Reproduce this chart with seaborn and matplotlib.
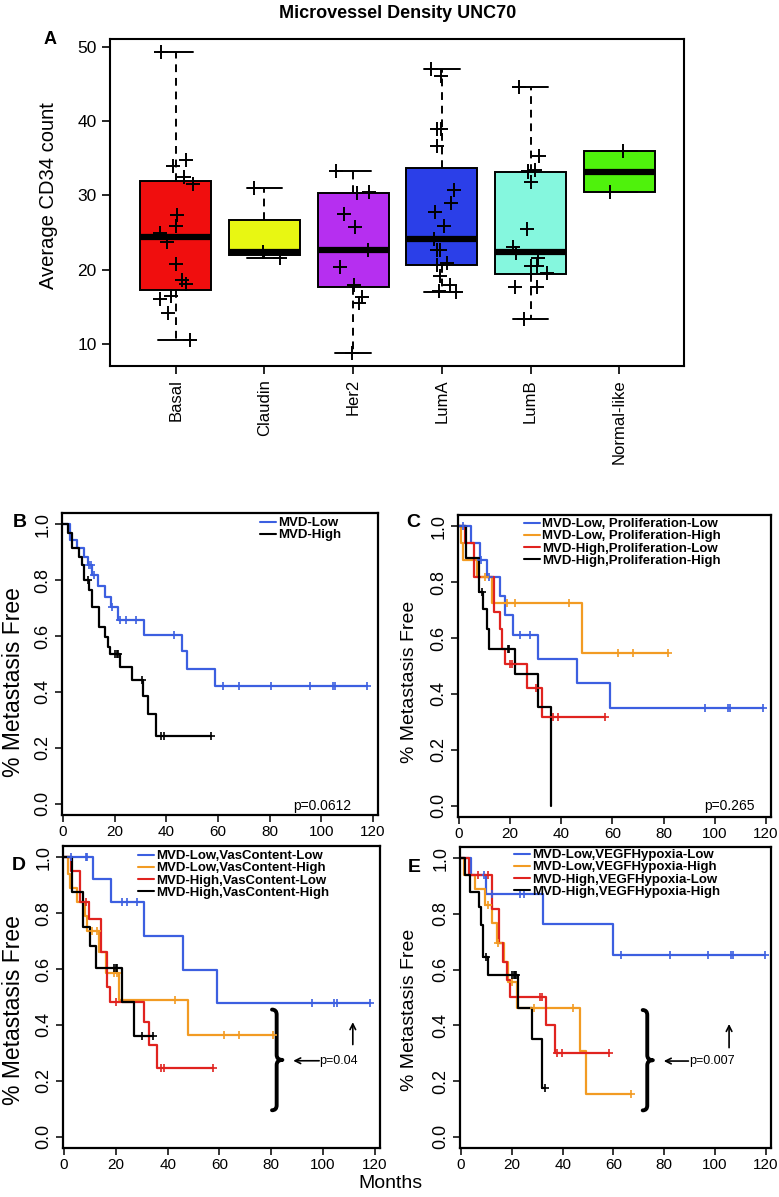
import numpy as np
import pandas as pd
import seaborn as sns
import matplotlib
matplotlib.use("Agg")
import matplotlib.pyplot as plt
from matplotlib import font_manager as fm
from matplotlib.lines import Line2D
from matplotlib.path import Path
from matplotlib.patches import PathPatch

sns.set_style("ticks", rc={"axes.edgecolor": "black", "text.color": "black",
                           "xtick.color": "black", "ytick.color": "black",
                           "axes.labelcolor": "black"})
plt.rcParams["font.family"] = ["Liberation Sans", "DejaVu Sans"]

# narrow face for the month ticks (the originals are condensed), if present
_narrow = [f.name for f in fm.fontManager.ttflist if f.name == "Liberation Sans Narrow"]
month_font = _narrow[0] if _narrow else "Liberation Sans"
month_size = 13 if _narrow else 11

# ---------------- panel A : CD34 counts per subtype ----------------
subtypes = ["Basal", "Claudin", "Her2", "LumA", "LumB", "Normal-like"]
box_colors = ["#F00E0E", "#E8F712", "#B62FF0", "#2B3FE8", "#85F7DE", "#4FF20C"]

basal_pts = [49.4, 34.8, 34.0, 32.5, 31.5, 27.3, 25.9, 25.0, 23.7, 20.8,
             18.6, 18.1, 16.5, 16.1, 14.2, 10.5]
claudin_pts = [31.0, 22.4, 21.6]
her2_pts = [33.3, 30.3, 30.4, 27.5, 25.8, 22.7, 20.3, 17.9, 16.3, 15.5, 8.7]
luma_pts = [47.1, 46.1, 39.0, 39.0, 36.7, 30.7, 29.0, 27.8, 25.9, 24.1,
            22.7, 22.7, 20.9, 20.6, 19.2, 17.9, 17.1, 17.0]
lumb_pts = [44.6, 35.3, 33.1, 33.3, 33.5, 31.8, 25.5, 23.1, 22.3, 21.6,
            20.5, 20.5, 19.5, 17.6, 17.6, 13.3]
normal_pts = [36.0, 30.4]

# box summaries (R boxplot hinges)
box_q1 = [17.2, 22.0, 17.7, 20.6, 19.4, 30.5]
box_med = [24.35, 22.35, 22.7, 24.1, 22.4, 33.2]
box_q3 = [32.0, 26.7, 30.3, 33.7, 33.1, 36.0]
whisk_lo = [10.5, 21.6, 8.7, 17.0, 13.3, 30.5]
whisk_hi = [49.4, 31.0, 33.3, 47.1, 44.6, 36.0]

# ---------------- Kaplan-Meier curves ----------------
km_blue, km_orange, km_red, km_black = "#3C5FE0", "#F29B23", "#E0231F", "black"

# B
b_low_t = [0, 2.6, 5.4, 8.3, 9.6, 11.4, 13.5, 16.3, 18.4, 21.4, 31.4, 46.2, 48.0, 58.8]
b_low_s = [1.0, 0.943, 0.914, 0.883, 0.855, 0.817, 0.779, 0.741, 0.704, 0.658, 0.604, 0.545, 0.483, 0.422]
b_low_end = 117.7
b_low_cens = [10.1, 10.9, 12.1, 18.9, 22.1, 24.3, 28.1, 43.1, 61.9, 68.0, 80.7, 95.6, 104.6, 105.3, 117.7]
b_high_t = [0, 2.1, 3.5, 6.0, 7.3, 8.2, 9.9, 11.4, 14.1, 16.3, 17.3, 18.2, 22.1, 26.8, 31.1, 33.0, 36.2]
b_high_s = [1.0, 0.97, 0.914, 0.883, 0.854, 0.80, 0.765, 0.705, 0.634, 0.598, 0.562, 0.535, 0.488, 0.444, 0.386, 0.322, 0.241]
b_high_end = 57.4
b_high_cens = [9.6, 20.2, 20.8, 21.4, 30.4, 37.9, 39.2, 57.4]

# C
c_ll_t = [0, 4.7, 8.2, 10.8, 16.0, 18.0, 21.0, 30.7, 46.0, 59.0]
c_ll_s = [1.0, 0.94, 0.88, 0.818, 0.749, 0.681, 0.612, 0.524, 0.439, 0.35]
c_ll_end = 119.0
c_ll_cens = [1.7, 8.5, 11.9, 23.8, 27.8, 96.2, 105.3, 105.9, 119.0]
c_lh_t = [0, 0.7, 1.4, 6.9, 12.8, 47.9]
c_lh_s = [1.0, 0.94, 0.88, 0.818, 0.724, 0.545]
c_lh_end = 81.8
c_lh_cens = [10.2, 18.6, 21.9, 43.0, 62.3, 68.1, 81.8]
c_hl_t = [0, 2.3, 6.0, 13.7, 16.0, 16.9, 18.0, 26.4, 32.3]
c_hl_s = [1.0, 0.94, 0.818, 0.694, 0.631, 0.562, 0.507, 0.421, 0.316]
c_hl_end = 57.1
c_hl_cens = [19.9, 20.6, 30.0, 36.6, 38.8, 57.1]
c_hh_t = [0, 2.7, 7.7, 9.5, 10.8, 11.7, 21.9, 30.7, 36.0]
c_hh_s = [1.0, 0.885, 0.766, 0.703, 0.633, 0.56, 0.471, 0.352, 0.0]
c_hh_end = 36.0
c_hh_cens = [8.9, 19.3, 19.7]

# D
d_ll_t = [0, 11.1, 18.1, 31.0, 45.8, 58.9]
d_ll_s = [1.0, 0.922, 0.839, 0.718, 0.598, 0.477]
d_ll_end = 118.1
d_ll_cens = [2.7, 8.5, 9.0, 22.3, 24.2, 28.1, 95.6, 104.4, 105.3, 118.1]
d_lh_t = [0, 1.7, 2.3, 5.1, 8.1, 9.0, 13.5, 16.2, 21.4, 48.0]
d_lh_s = [1.0, 0.94, 0.89, 0.839, 0.788, 0.737, 0.662, 0.585, 0.489, 0.365]
d_lh_end = 80.8
d_lh_cens = [10.7, 12.6, 19.4, 20.3, 42.9, 61.8, 67.7, 80.8]
d_hl_t = [0, 2.7, 6.2, 9.8, 14.3, 16.7, 17.8, 30.9, 32.7, 35.8]
d_hl_s = [1.0, 0.95, 0.839, 0.779, 0.662, 0.537, 0.481, 0.409, 0.328, 0.246]
d_hl_end = 57.7
d_hl_cens = [8.5, 19.9, 37.3, 38.6, 57.7]
d_hh_t = [0, 3.0, 7.2, 10.0, 12.4, 22.3, 27.0]
d_hh_s = [1.0, 0.875, 0.749, 0.684, 0.603, 0.481, 0.362]
d_hh_end = 34.2
d_hh_cens = [19.4, 20.1, 20.6, 30.0, 34.2]

# E
e_ll_t = [0, 3.9, 9.8, 32.1, 59.9]
e_ll_s = [1.0, 0.94, 0.872, 0.764, 0.654]
e_ll_end = 119.6
e_ll_cens = [8.9, 12.1, 23.2, 24.9, 62.9, 82.2, 97.2, 106.2, 107.0, 119.6]
e_lh_t = [0, 1.0, 5.6, 9.3, 12.1, 14.1, 16.9, 18.4, 21.9, 47.0, 49.2]
e_lh_s = [1.0, 0.94, 0.89, 0.833, 0.767, 0.697, 0.626, 0.556, 0.463, 0.308, 0.155]
e_lh_end = 67.0
e_lh_cens = [10.8, 14.5, 20.2, 28.8, 44.0, 67.0]
e_hl_t = [0, 3.3, 12.1, 15.0, 16.7, 18.2, 19.3, 33.6, 36.9]
e_hl_s = [1.0, 0.94, 0.817, 0.697, 0.626, 0.564, 0.501, 0.40, 0.30]
e_hl_end = 58.4
e_hl_cens = [6.6, 10.6, 31.0, 31.7, 37.8, 39.9, 58.4]
e_hh_t = [0, 1.4, 3.6, 6.9, 7.9, 8.6, 10.8, 22.5, 27.8, 31.9]
e_hh_s = [1.0, 0.94, 0.88, 0.823, 0.761, 0.646, 0.58, 0.463, 0.35, 0.175]
e_hh_end = 33.0
e_hh_cens = [9.9, 20.2, 20.7, 21.2, 21.7, 33.0]

legend_b = ["MVD-Low", "MVD-High"]
legend_c = ["MVD-Low, Proliferation-Low", "MVD-Low, Proliferation-High",
            "MVD-High,Proliferation-Low", "MVD-High,Proliferation-High"]
legend_d = ["MVD-Low,VasContent-Low", "MVD-Low,VasContent-High",
            "MVD-High,VasContent-Low", "MVD-High,VasContent-High"]
legend_e = ["MVD-Low,VEGFHypoxia-Low", "MVD-Low,VEGFHypoxia-High",
            "MVD-High,VEGFHypoxia-Low", "MVD-High,VEGFHypoxia-High"]

W, H = 779, 1197
fig = plt.figure(figsize=(W / 100, H / 100), dpi=100)


def fig_ax(left, top, right, bottom):
    # pixel box -> figure fraction
    return fig.add_axes([left / W, 1 - bottom / H, (right - left) / W, (bottom - top) / H])


def px(x, y):
    return x / W, 1 - y / H


# ---------------- A ----------------
axA = fig_ax(110, 39, 684, 366)
pts = pd.DataFrame({
    "subtype": np.repeat(subtypes, [len(basal_pts), len(claudin_pts), len(her2_pts),
                                    len(luma_pts), len(lumb_pts), len(normal_pts)]),
    "count": basal_pts + claudin_pts + her2_pts + luma_pts + lumb_pts + normal_pts,
})
stats = [dict(med=m, q1=a, q3=b, whislo=lo, whishi=hi, fliers=[])
         for m, a, b, lo, hi in zip(box_med, box_q1, box_q3, whisk_lo, whisk_hi)]
bp = axA.bxp(stats, positions=range(len(subtypes)), widths=0.8, capwidths=0.4,
             patch_artist=True, showfliers=False,
             boxprops=dict(edgecolor="black", linewidth=1.4),
             medianprops=dict(color="black", linewidth=4.5, solid_capstyle="butt"),
             whiskerprops=dict(color="black", linewidth=1.4, linestyle=(0, (4, 3))),
             capprops=dict(color="black", linewidth=1.4))
for patch, c in zip(bp["boxes"], box_colors):
    patch.set_facecolor(c)
np.random.seed(7)
sns.stripplot(data=pts, x="subtype", y="count", order=subtypes, jitter=0.2,
              marker="+", color="black", size=10, linewidth=1.4, ax=axA, zorder=4)
axA.set_xlim(-0.74, 5.73)
axA.set_ylim(7.0, 51.1)
axA.set_yticks([10, 20, 30, 40, 50])
axA.set_xticks(range(len(subtypes)))
axA.set_xticklabels(subtypes, rotation=90, fontsize=12)
axA.tick_params(axis="both", direction="out", length=6, width=1.2)
axA.tick_params(axis="y", labelsize=12.5)
for sp in axA.spines.values():
    sp.set_linewidth(1.5)
axA.set_xlabel("")
axA.set_ylabel("")
fig.text(*px(49, 196), "Average CD34 count", rotation=90, ha="center", va="center", fontsize=14.5)
fig.text(*px(398, 14), "Microvessel Density UNC70", ha="center", va="center",
         fontsize=13, fontweight="bold")
fig.text(*px(50, 40), "A", ha="center", va="center", fontsize=13, fontweight="bold")


# ---------------- KM panels ----------------
def km(ax, t, s, end, cens, color):
    tt, ss = list(t), list(s)
    if end > t[-1]:
        tt.append(end)
        ss.append(s[-1])
    sns.lineplot(x=tt, y=ss, drawstyle="steps-post", color=color, lw=1.6,
                 estimator=None, sort=False, ax=ax)
    idx = np.searchsorted(t, cens, side="right") - 1
    sns.scatterplot(x=cens, y=np.asarray(s)[idx], marker="+", color=color, s=35,
                    linewidth=1.2, ax=ax, zorder=3)


def brace(ax, x0, w, ylo, yhi):
    xm, xt = x0 + w * 0.45, x0 + w
    ym, h = (ylo + yhi) / 2, (yhi - ylo) * 0.05
    verts = [(x0, yhi), (xm, yhi), (xm, yhi - h), (xm, ym + h), (xm, ym), (xt, ym),
             (xm, ym), (xm, ym - h), (xm, ylo + h), (xm, ylo), (x0, ylo)]
    codes = [Path.MOVETO, Path.CURVE3, Path.CURVE3, Path.LINETO, Path.CURVE3, Path.CURVE3,
             Path.CURVE3, Path.CURVE3, Path.LINETO, Path.CURVE3, Path.CURVE3]
    ax.add_patch(PathPatch(Path(verts, codes), fill=False, lw=2.8, color="black",
                           capstyle="round", joinstyle="round"))


def style_km(ax):
    ax.set_xlim(-0.4, 122)
    ax.set_ylim(-0.04, 1.04)
    ax.set_xticks(range(0, 121, 20))
    ax.set_xticklabels([str(v) for v in range(0, 121, 20)],
                       fontfamily=month_font, fontsize=month_size)
    ax.set_yticks(np.arange(0, 1.01, 0.2))
    ax.set_yticklabels([f"{v:.1f}" for v in np.arange(0, 1.01, 0.2)], fontsize=13)
    ax.tick_params(axis="both", direction="out", length=5, width=1.1, pad=2.5)
    ax.tick_params(axis="y", labelrotation=90)
    for lab in ax.get_yticklabels():
        lab.set_va("center")
    for sp in ax.spines.values():
        sp.set_linewidth(1.6)
    ax.set_xlabel("")
    ax.set_ylabel("")


def km_legend(ax, labels, colors, x, y):
    handles = [Line2D([], [], color=c, lw=1.5) for c in colors]
    ax.legend(handles, labels, loc="upper left", bbox_to_anchor=px(x, y),
              bbox_transform=fig.transFigure, frameon=False,
              prop={"weight": "bold", "size": 9.5}, handlelength=1.2,
              handletextpad=0.15, labelspacing=0.0, borderpad=0, borderaxespad=0)


four = [km_blue, km_orange, km_red, km_black]

axB = fig_ax(62, 513, 378, 815)
km(axB, b_low_t, b_low_s, b_low_end, b_low_cens, km_blue)
km(axB, b_high_t, b_high_s, b_high_end, b_high_cens, km_black)
style_km(axB)
km_legend(axB, legend_b, [km_blue, km_black], 260, 517)
fig.text(*px(322, 806), "p=0.0612", ha="center", va="center", fontsize=10)

axC = fig_ax(458, 515, 771, 817)
km(axC, c_ll_t, c_ll_s, c_ll_end, c_ll_cens, km_blue)
km(axC, c_lh_t, c_lh_s, c_lh_end, c_lh_cens, km_orange)
km(axC, c_hl_t, c_hl_s, c_hl_end, c_hl_cens, km_red)
km(axC, c_hh_t, c_hh_s, c_hh_end, c_hh_cens, km_black)
style_km(axC)
km_legend(axC, legend_c, four, 524, 518)
fig.text(*px(729, 806), "p=0.265", ha="center", va="center", fontsize=10)

axD = fig_ax(63, 846, 380, 1148)
km(axD, d_ll_t, d_ll_s, d_ll_end, d_ll_cens, km_blue)
km(axD, d_lh_t, d_lh_s, d_lh_end, d_lh_cens, km_orange)
km(axD, d_hl_t, d_hl_s, d_hl_end, d_hl_cens, km_red)
km(axD, d_hh_t, d_hh_s, d_hh_end, d_hh_cens, km_black)
style_km(axD)
km_legend(axD, legend_d, four, 138, 850)
brace(axD, 80.3, 4.0, 0.095, 0.455)
axD.annotate("", xy=(88.5, 0.272), xytext=(98.5, 0.272),
             arrowprops=dict(arrowstyle="->", lw=1.2, color="black", shrinkA=0, shrinkB=0))
axD.text(98.7, 0.272, "p=0.04", ha="left", va="center", fontsize=9)
axD.annotate("", xy=(111.5, 0.41), xytext=(111.5, 0.33),
             arrowprops=dict(arrowstyle="->", lw=1.2, color="black", shrinkA=0, shrinkB=0))

axE = fig_ax(460, 847, 771, 1148)
km(axE, e_ll_t, e_ll_s, e_ll_end, e_ll_cens, km_blue)
km(axE, e_lh_t, e_lh_s, e_lh_end, e_lh_cens, km_orange)
km(axE, e_hl_t, e_hl_s, e_hl_end, e_hl_cens, km_red)
km(axE, e_hh_t, e_hh_s, e_hh_end, e_hh_cens, km_black)
style_km(axE)
km_legend(axE, legend_e, four, 514, 849)
brace(axE, 71.5, 4.0, 0.095, 0.455)
axE.annotate("", xy=(79.8, 0.272), xytext=(89.5, 0.272),
             arrowprops=dict(arrowstyle="->", lw=1.2, color="black", shrinkA=0, shrinkB=0))
axE.text(89.7, 0.272, "p=0.007", ha="left", va="center", fontsize=9)
axE.annotate("", xy=(105.5, 0.405), xytext=(105.5, 0.32),
             arrowprops=dict(arrowstyle="->", lw=1.2, color="black", shrinkA=0, shrinkB=0))

# panel letters and shared labels
for letter, (x, y) in zip("BCDE", [(20, 523), (413, 523), (19, 866), (414, 867)]):
    fig.text(*px(x, y), letter, ha="center", va="center", fontsize=14, fontweight="bold")
for (x, y), fs in zip([(14, 682), (409, 682), (14, 1010), (409, 1010)], [16.5, 14, 16.5, 14]):
    fig.text(*px(x, y), "% Metastasis Free", rotation=90, ha="center", va="center", fontsize=fs)
fig.text(*px(390, 1183), "Months", ha="center", va="center", fontsize=14)

fig.savefig("out.png", dpi=100)
